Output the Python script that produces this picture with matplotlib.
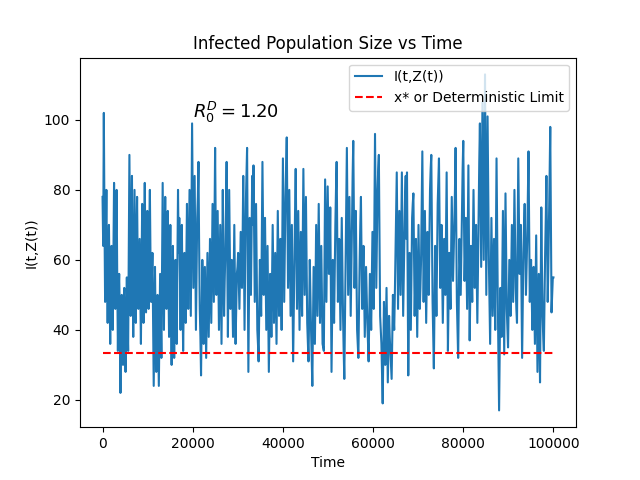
import numpy as np
import matplotlib
matplotlib.use("Agg")
import matplotlib.pyplot as plt

# infected counts, in time order (0 .. 100000)
seg1 = [78, 64, 102, 72, 48, 66, 80, 58, 42, 60, 70, 52, 36, 56, 64, 48, 40, 62, 82, 58,
        46, 68, 80, 54, 34, 50, 56, 44, 22, 46, 50, 38, 30, 48, 52, 40, 28, 44, 55, 42,
        34, 62, 90, 66, 44, 70, 84, 56, 38, 60, 80, 62, 42, 64, 78, 58, 46, 56, 66, 50,
        36, 58, 76, 60, 42, 66, 82, 64, 45, 60, 74, 58, 46, 68, 80, 60, 48, 54, 62, 44,
        24, 42, 58, 40, 28, 44, 50, 36, 24, 40, 56, 44, 32, 58, 82, 60, 40, 62, 78, 56,
        46, 60, 74, 54, 38, 56, 70, 48, 30, 50, 64, 46, 32, 48, 60, 46, 36, 58, 80, 62]
seg2 = [72, 56, 40, 58, 70, 50, 34, 48, 62, 54, 42, 60, 76, 58, 46, 64, 80, 62, 44, 70,
        99, 74, 52, 68, 84, 60, 40, 56, 72, 78, 88, 64, 46, 38, 27, 44, 60, 50, 36, 48,
        58, 44, 32, 46, 62, 50, 38, 52, 66, 54, 42, 58, 76, 62, 48, 70, 92, 68, 50, 62,
        74, 56, 40, 56, 70, 52, 36, 58, 80, 60, 44, 54, 62, 74, 88, 60, 38, 58, 80, 62,
        46, 54, 60, 48, 38, 54, 70, 52, 36, 46, 56, 58, 62, 54, 46, 58, 68, 60, 52, 66,
        84, 62, 40, 58, 76, 84, 92, 58, 28, 50, 72, 60, 50, 66, 84, 70]
seg3 = [87, 66, 48, 62, 76, 58, 40, 36, 31, 46, 60, 52, 44, 66, 88, 70, 50, 60, 72, 56,
        40, 52, 64, 46, 28, 42, 56, 48, 38, 54, 70, 56, 42, 52, 62, 48, 36, 56, 74, 60,
        44, 54, 66, 52, 40, 64, 89, 68, 48, 62, 78, 86, 95, 74, 52, 66, 80, 62, 44, 58,
        70, 50, 31, 46, 62, 74, 86, 66, 46, 60, 74, 56, 40, 54, 68, 56, 44, 64, 86, 68,
        50, 64, 78, 60, 42, 36, 31, 44, 60, 50, 40, 32, 24, 40, 58, 46, 36, 52, 70, 56,
        44, 60, 76, 58, 42, 54, 64, 50, 36, 35, 34, 58, 83, 64, 48, 66, 81, 68, 56, 60]
seg4 = [75, 50, 28, 44, 60, 50, 42, 56, 70, 80, 88, 66, 48, 58, 66, 52, 40, 56, 72, 58,
        44, 34, 26, 42, 58, 76, 92, 70, 50, 64, 78, 60, 44, 56, 70, 84, 94, 72, 52, 62,
        74, 56, 40, 36, 32, 46, 60, 70, 78, 60, 46, 56, 64, 50, 38, 48, 58, 50, 42, 36,
        31, 44, 56, 48, 40, 54, 68, 56, 46, 72, 96, 74, 52, 66, 80, 86, 90, 66, 44, 40,
        36, 28, 19, 34, 48, 38, 30, 42, 52, 38, 25, 34, 44, 38, 34, 30, 26, 38, 50, 44,
        40, 50, 62, 74, 85, 64, 46, 60, 74, 62, 50, 68, 85, 64, 44, 56, 70, 78, 84, 66]
seg5 = [85, 56, 27, 44, 62, 50, 40, 56, 72, 76, 79, 60, 44, 54, 66, 52, 38, 54, 70, 58,
        46, 52, 60, 76, 91, 70, 48, 60, 74, 58, 42, 54, 68, 58, 50, 64, 80, 86, 90, 68,
        48, 38, 29, 46, 64, 54, 44, 60, 76, 82, 89, 70, 52, 60, 70, 56, 42, 54, 66, 58,
        50, 68, 85, 60, 34, 48, 62, 54, 46, 62, 78, 66, 54, 62, 70, 80, 92, 70, 48, 40,
        32, 50, 66, 58, 50, 62, 76, 86, 94, 74, 54, 62, 72, 58, 46, 66, 87, 62, 37, 50,
        64, 56, 48, 64, 80, 66, 52, 60, 70, 56, 42, 58, 76, 88, 99, 78, 58, 82, 105, 84]
seg6 = [60, 86, 113, 80, 50, 76, 101, 80, 60, 48, 36, 54, 72, 58, 44, 56, 66, 52, 40, 64,
        89, 68, 48, 32, 17, 36, 52, 44, 38, 56, 74, 54, 33, 56, 79, 62, 46, 40, 35, 48,
        60, 52, 44, 58, 70, 58, 48, 64, 80, 66, 52, 46, 42, 66, 89, 72, 56, 62, 70, 50,
        32, 46, 62, 70, 76, 62, 50, 58, 66, 78, 91, 70, 48, 54, 60, 50, 40, 48, 58, 46,
        36, 52, 67, 48, 28, 42, 56, 40, 25, 50, 75, 58, 44, 38, 34, 48, 62, 72, 84, 66,
        48, 58, 70, 84, 98, 70, 45, 50, 55, 55]

infected = np.array(seg1 + seg2 + seg3 + seg4 + seg5 + seg6, dtype=float)
t_end = 100000
time = np.linspace(0, t_end, len(infected))

x_star = 33.33   # deterministic limit
R0 = 1.20

fig, ax = plt.subplots(figsize=(6.4, 4.8), dpi=100)
ax.plot(time, infected, label="I(t,Z(t))")
ax.plot(time, np.full_like(time, x_star), "r--", label="x* or Deterministic Limit")

ax.text(20000, 100.5, r"$R_0^D = %.2f$" % R0, fontsize=13)

ax.set_title("Infected Population Size vs Time")
ax.set_xlabel("Time")
ax.set_ylabel("I(t,Z(t))")
ax.legend(loc="upper right")

fig.savefig("out.png")
